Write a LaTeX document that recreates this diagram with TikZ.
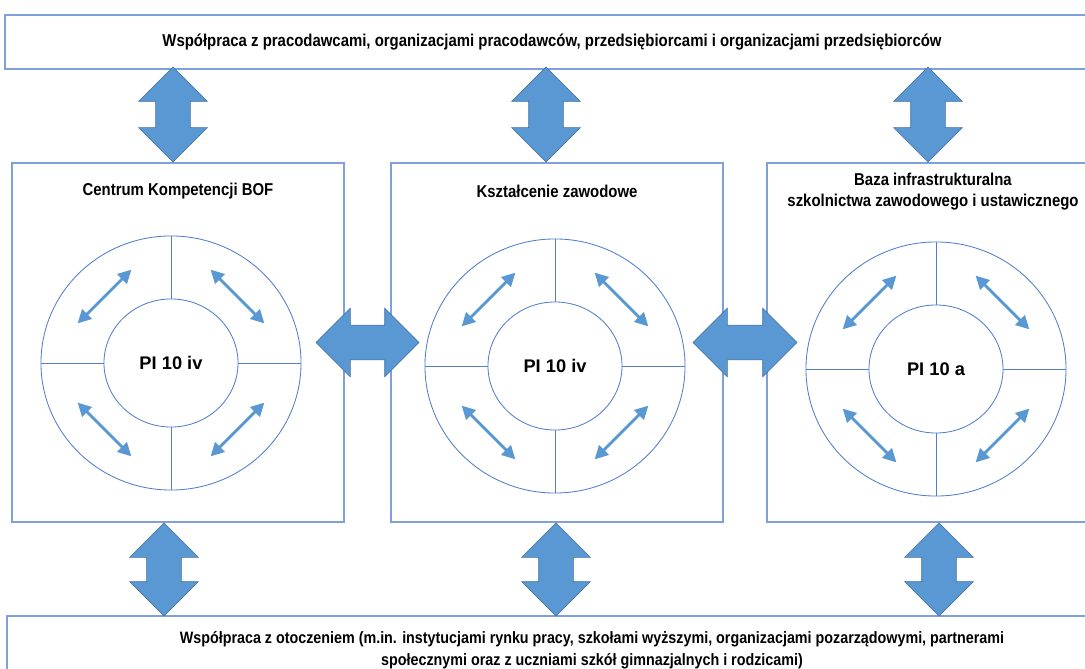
\documentclass[tikz,border=0pt]{standalone}
\usepackage{fontspec}
\setmainfont{Liberation Sans}
\newfontfamily\narrowsans[FakeStretch=0.87]{Liberation Sans}
\usetikzlibrary{arrows.meta,shapes.geometric,shapes.arrows,calc}
\definecolor{frame}{RGB}{128,160,218}
\definecolor{ring}{RGB}{80,126,202}
\definecolor{blockfill}{RGB}{89,152,211}
\definecolor{blockedge}{RGB}{65,113,160}

\begin{document}
\begin{tikzpicture}[x=0.025cm,y=-0.025cm,
  font=\narrowsans\bfseries,
  band/.style={draw=frame,line width=1.2pt,align=center,inner sep=0pt},
  panel/.style={draw=frame,line width=1pt,minimum width=8.3cm,minimum height=8.975cm},
  ttl/.style={align=center,font=\narrowsans\bfseries\fontsize{12.2}{15}\selectfont},
  outer/.style={ellipse,draw=ring,line width=0.6pt,inner sep=0pt,
                minimum width=6.5cm,minimum height=6.35cm},
  inner/.style={ellipse,draw=ring,line width=0.6pt,inner sep=0pt,
                minimum width=3.35cm,minimum height=3.2cm,
                font=\bfseries\fontsize{13}{15}\selectfont},
  spoke/.style={draw=ring,line width=0.6pt},
  twoway/.style={{Triangle[length=9.5pt,width=9.5pt]}-{Triangle[length=9.5pt,width=9.5pt]},
                 draw=blockfill,line width=2pt},
  block/.style={double arrow,fill=blockfill,draw=blockedge,line width=0.4pt,
                inner xsep=0pt,inner ysep=0.425cm,double arrow head extend=0.425cm}]

\useasboundingbox (0,0) rectangle (1085,669);
\clip (0,0) rectangle (1085,669);

\node[band,minimum width=27.35cm,minimum height=1.35cm,
      font=\narrowsans\bfseries\fontsize{12.2}{15}\selectfont] (coop) at (552,42)
  {Współpraca z pracodawcami, organizacjami pracodawców, przedsiębiorcami i organizacjami przedsiębiorców};
\node[band,minimum width=29.25cm,minimum height=1.7cm,
      font=\narrowsans\bfseries\fontsize{11.7}{15.6}\selectfont] (env) at (592,650)
  {Współpraca z otoczeniem (m.in. instytucjami rynku pracy, szkołami wyższymi, organizacjami pozarządowymi, partnerami\\
   społecznymi oraz z uczniami szkół gimnazjalnych i rodzicami)};

\node[panel] (lp) at (178,342.5) {};
\node[panel] (mp) at (557,342.5) {};
\node[panel] (rp) at (933,342.5) {};

\node[ttl] (lt) at ([yshift=-0.725cm]lp.north) {Centrum Kompetencji BOF};
\node[ttl] (mt) at ([yshift=-0.725cm]mp.north) {Kształcenie zawodowe};
\node[ttl] (rt) at ([yshift=-0.725cm]rp.north) {Baza infrastrukturalna\\ szkolnictwa zawodowego i ustawicznego};

\node[outer] (lo) at (171,363) {};
\node[inner] (li) at (171,363) {PI 10 iv};
\node[outer] (mo) at (555,366) {};
\node[inner] (mi) at (555,366) {PI 10 iv};
\node[outer] (ro) at (936,369) {};
\node[inner] (ri) at (936,369) {PI 10 a};

\foreach \c in {l,m,r}{
  \foreach \s in {north,south,east,west}
    \draw[spoke] (\c i.\s) -- (\c o.\s);
  \foreach \a in {45,135,225,315}
    \draw[twoway] ($(\c o.center)+(\a:2.35cm)+(\a+90:0.95cm)$) -- ($(\c o.center)+(\a:2.35cm)+(\a-90:0.95cm)$);
}

\node[block,minimum height=2.375cm,rotate=90] (u1) at (173,114.5) {};
\node[block,minimum height=2.375cm,rotate=90] (u2) at (546,114.5) {};
\node[block,minimum height=2.375cm,rotate=90] (u3) at (928,114.5) {};
\node[block,minimum height=2.325cm,rotate=90] (d1) at (164,569.5) {};
\node[block,minimum height=2.325cm,rotate=90] (d2) at (556,569.5) {};
\node[block,minimum height=2.325cm,rotate=90] (d3) at (939,569.5) {};
\node[block,minimum height=2.575cm] (h1) at ($(lp.east)!0.5!(mp.west)$) {};
\node[block,minimum height=2.6cm] (h2) at ($(mp.east)!0.5!(rp.west)$) {};
\end{tikzpicture}
\end{document}
